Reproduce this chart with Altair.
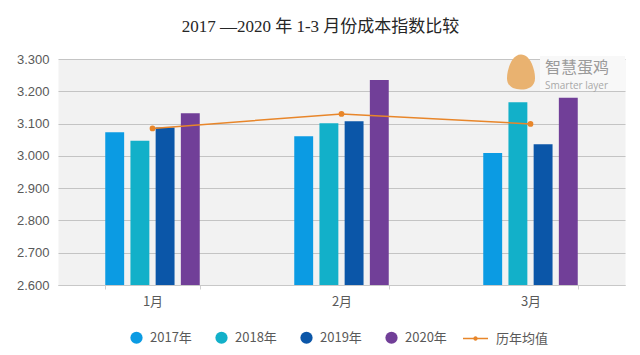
import altair as alt
import pandas as pd

months = ["1月", "2月", "3月"]
years = ["2017年", "2018年", "2019年", "2020年"]
v2017 = [3.073, 3.061, 3.009]
v2018 = [3.047, 3.101, 3.166]
v2019 = [3.088, 3.107, 3.036]
v2020 = [3.132, 3.235, 3.180]
avg_values = [3.085, 3.130, 3.099]
avg_name = "历年均值"
year_colors = ["#0b9be3", "#12b0c9", "#0b56a8", "#713f98"]
avg_color = "#e8862a"
y_ticks = [2.6, 2.7, 2.8, 2.9, 3.0, 3.1, 3.2, 3.3]

series = [v2017, v2018, v2019, v2020]
rows = []
for yr, vals in zip(years, series):
    for m, v in zip(months, vals):
        rows.append({"month": m, "year": yr, "value": v})
bars_df = pd.DataFrame(rows)
avg_df = pd.DataFrame({"month": months, "value": avg_values, "series": [avg_name] * 3})

label_font = "Noto Sans CJK SC"
text_color = "#595959"

x_enc = alt.X("month:N", sort=months,
              scale=alt.Scale(paddingInner=0.5, paddingOuter=0.25),
              axis=alt.Axis(title=None, labelAngle=0, labelFont=label_font, labelFontSize=13,
                            labelColor=text_color, labelPadding=6, tickBand="extent",
                            tickColor="#d0d0d0", tickSize=4, domainColor="#c8c8c8",
                            grid=False))
y_enc = alt.Y("value:Q", scale=alt.Scale(domain=[2.6, 3.3], zero=False, nice=False),
              axis=alt.Axis(title=None, values=y_ticks, format=".3f", labelFont="Liberation Sans",
                            labelFontSize=13, labelColor=text_color, domain=False, ticks=False,
                            labelPadding=9, gridColor="#c4c4c4", gridWidth=1))

bars = alt.Chart(bars_df).mark_bar().encode(
    x=x_enc,
    xOffset=alt.XOffset("year:N", sort=years, scale=alt.Scale(paddingInner=0.25, paddingOuter=0)),
    y=y_enc,
    y2=alt.datum(2.6),
    color=alt.Color("year:N", sort=years,
                    scale=alt.Scale(domain=years, range=year_colors),
                    legend=alt.Legend(title=None, orient="none", legendX=72, legendY=272,
                                      direction="horizontal", columns=4, symbolType="circle",
                                      symbolSize=150, labelFont=label_font, labelFontSize=13,
                                      labelColor=text_color, columnPadding=23, labelOffset=7,
                                      padding=0, symbolStrokeWidth=0)),
)

line = alt.Chart(avg_df).mark_line(strokeWidth=1.5, point=alt.OverlayMarkDef(size=14, filled=True, color=avg_color)).encode(
    x=x_enc,
    y=y_enc,
    stroke=alt.Stroke("series:N",
                      scale=alt.Scale(domain=[avg_name], range=[avg_color]),
                      legend=alt.Legend(title=None, orient="none", legendX=404, legendY=266,
                                        symbolType="M-1,0L1,0M-0.12,0A0.12,0.12 0 1,0 0.12,0A0.12,0.12 0 1,0 -0.12,0Z",
                                        symbolSize=625, symbolStrokeWidth=1.5,
                                        symbolFillColor=avg_color, symbolStrokeColor=avg_color,
                                        labelFont=label_font, labelFontSize=13, labelColor=text_color,
                                        labelOffset=7, padding=0)),
)

wm_df = pd.DataFrame({"a": [1]})
wm_box = alt.Chart(wm_df).mark_rect(color="#f8f8f8").encode(
    x=alt.value(482), x2=alt.value(567), y=alt.value(-3), y2=alt.value(32))
wm_egg = alt.Chart(wm_df).mark_point(
    shape="M0,-1C0.55,-1 0.8,-0.1 0.8,0.35C0.8,0.8 0.45,1 0,1C-0.45,1 -0.8,0.8 -0.8,0.35C-0.8,-0.1 -0.55,-1 0,-1Z",
    filled=True, color="#e9b270", opacity=1, size=1225).encode(
    x=alt.value(463), y=alt.value(13))
wm_text1 = alt.Chart(wm_df).mark_text(text="智慧蛋鸡", font=label_font, fontSize=16, color="#9a9a9a",
                                      align="left", baseline="alphabetic").encode(
    x=alt.value(487), y=alt.value(14))
wm_text2 = alt.Chart(wm_df).mark_text(text="Smarter layer", font="Open Sans", fontSize=10, color="#a8a8a8",
                                      align="left", baseline="alphabetic").encode(
    x=alt.value(487), y=alt.value(30))

chart = alt.layer(bars, line, wm_box, wm_egg, wm_text1, wm_text2).resolve_scale(
    color="independent"
).properties(
    width=567, height=226,
    title=alt.TitleParams("2017 —2020 年 1-3 月份成本指数比较",
                          font="Liberation Serif, Noto Sans CJK SC", fontSize=17,
                          fontWeight="normal", color="#262626", anchor="middle",
                          offset=0, dx=-21, dy=-17),
    autosize=alt.AutoSizeParams(type="none"),
    padding={"left": 58, "top": 59, "right": 15, "bottom": 70},
    background="white",
).configure_view(fill="#f2f2f2", stroke="transparent")

chart.save("out.html", embed_options={"renderer": "svg", "actions": False})
